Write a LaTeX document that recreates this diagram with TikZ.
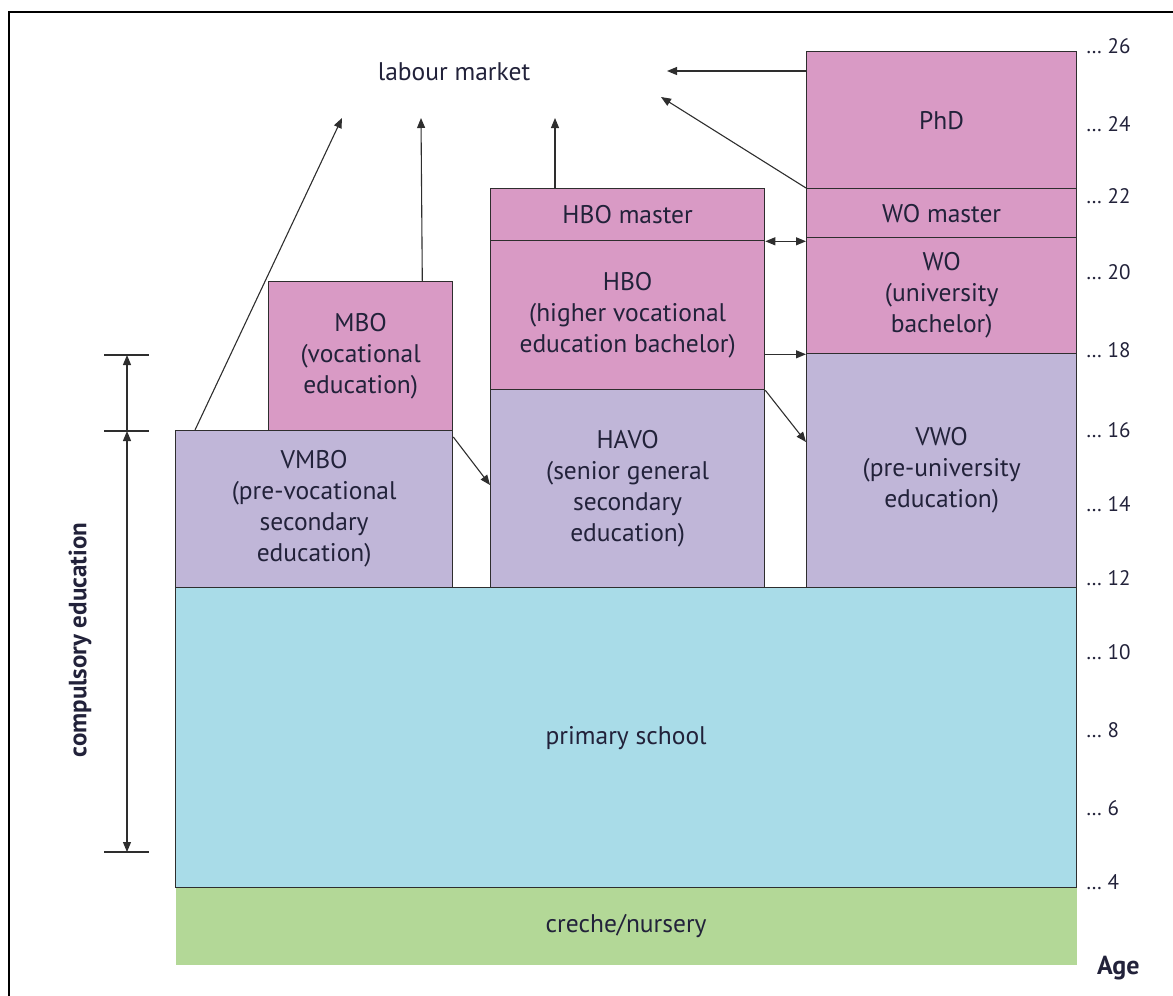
\documentclass[tikz,border=0pt]{standalone}
\usepackage{fontspec}
\setmainfont{PT Sans}
\usetikzlibrary{arrows.meta,calc}
\definecolor{pinkc}{HTML}{D99AC5}
\definecolor{lavc}{HTML}{C0B6D8}
\definecolor{bluec}{HTML}{A9DCE8}
\definecolor{greenc}{HTML}{B3D897}
\definecolor{edgec}{HTML}{2E2E2E}
\definecolor{txtc}{HTML}{22223A}
\begin{document}
\begin{tikzpicture}[x=1pt,y=-1pt,
  blk/.style={draw=edgec, line width=1.3pt, inner sep=0pt, anchor=north west, align=center,
    font=\fontsize{25.5}{31}\selectfont, text=txtc},
  arr/.style={-{Triangle[length=10pt,width=8pt]}, line width=1.1pt, draw=edgec},
  darr/.style={{Triangle[length=10pt,width=8pt]}-{Triangle[length=10pt,width=8pt]}, line width=1.1pt, draw=edgec},
  agel/.style={anchor=west, inner sep=0pt, font=\fontsize{21}{23}\selectfont, text=txtc},
  tick/.style={line width=1.3pt, draw=edgec}]
\useasboundingbox (0,0) rectangle (1173,996);
% frame
\draw[line width=2pt] (9,996) -- (9,12) -- (1173,12);
% blocks
\node[blk, draw=none, fill=greenc, minimum width=901pt, minimum height=77pt] (creche) at (175,887) {creche/nursery};
\node[blk, fill=bluec, minimum width=901pt, minimum height=300pt] (prim) at (175,587) {primary school};
\node[blk, fill=lavc, minimum width=277pt, minimum height=157pt] (vmbo) at (175,430) {VMBO\\(pre-vocational\\secondary\\education)};
\node[blk, fill=pinkc, minimum width=184pt, minimum height=149pt] (mbo) at (268,281) {MBO\\(vocational\\education)};
\node[blk, fill=lavc, minimum width=274pt, minimum height=198pt] (havo) at (490,389) {HAVO\\(senior general\\secondary\\education)};
\node[blk, fill=pinkc, minimum width=274pt, minimum height=149pt] (hbo) at (490,240) {HBO\\(higher vocational\\education bachelor)};
\node[blk, fill=pinkc, minimum width=274pt, minimum height=52pt] (hbom) at (490,188) {HBO master};
\node[blk, fill=lavc, minimum width=270pt, minimum height=234pt] (vwo) at (806,353) {VWO\\(pre-university\\education)};
\node[blk, fill=pinkc, minimum width=270pt, minimum height=116pt] (wo) at (806,237) {WO\\(university\\bachelor)};
\node[blk, fill=pinkc, minimum width=270pt, minimum height=49pt] (wom) at (806,188) {WO master};
\node[blk, fill=pinkc, minimum width=270pt, minimum height=137pt] (phd) at (806,51) {PhD};
% labour market
\node[font=\fontsize{25.5}{30}\selectfont, text=txtc] (lm) at (454,72) {labour market};
\coordinate (t1) at (342,118);
\coordinate (t2) at (421,118);
\coordinate (t3) at (555,118);
\coordinate (t4) at (667,71);
\coordinate (t5) at (661,97);
\draw[arr] ($(vmbo.north west)+(20,0)$) -- (t1);
\draw[arr] ($(mbo.north east)+(-31,0)$) -- (t2);
\draw[arr] ($(hbom.north west)+(65,0)$) -- (t3);
\draw[arr] ($(phd.north west)+(0,20)$) -- (t4);
\draw[arr] (wom.north west) -- (t5);
% transitions
\draw[darr] (hbom.south east) -- (hbom.south east -| wo.west);
\draw[arr] (wo.south west -| hbo.east) -- (wo.south west);
\draw[arr] (hbo.south east) -- ($(vwo.north west)+(0,89)$);
\draw[arr] ($(vmbo.north east)+(0,7)$) -- ($(havo.north west)+(0,96)$);
% compulsory education
\coordinate (c1) at (127,355);
\coordinate (c2) at (127,431);
\coordinate (c3) at (127,852);
\draw[tick] ($(c1)+(-23,0)$) -- ($(c1)+(22,0)$);
\draw[tick] ($(c2)+(-23,0)$) -- ($(c2)+(22,0)$);
\draw[tick] ($(c3)+(-23,0)$) -- ($(c3)+(22,0)$);
\draw[arr] (c2) -- (c1);
\draw[darr] (c3) -- (c2);
\node[rotate=90, font=\bfseries\fontsize{25}{27}\selectfont, text=txtc] (comp) at (80,640) {compulsory education};
% ages
\node[agel] (a26) at (1086,46) {… 26};
\node[agel] (a24) at (1086,124) {… 24};
\node[agel] (a22) at (1086,196) {… 22};
\node[agel] (a20) at (1086,272) {… 20};
\node[agel] (a18) at (1086,350) {… 18};
\node[agel] (a16) at (1086,430) {… 16};
\node[agel] (a14) at (1086,504) {… 14};
\node[agel] (a12) at (1086,578) {… 12};
\node[agel] (a10) at (1086,652) {… 10};
\node[agel] (a8) at (1086,730) {… 8};
\node[agel] (a6) at (1086,808) {… 6};
\node[agel] (a4) at (1086,882) {… 4};
\node[anchor=west, inner sep=0pt, font=\bfseries\fontsize{26}{28}\selectfont, text=txtc] (age) at (1097,968) {Age};
\end{tikzpicture}
\end{document}
